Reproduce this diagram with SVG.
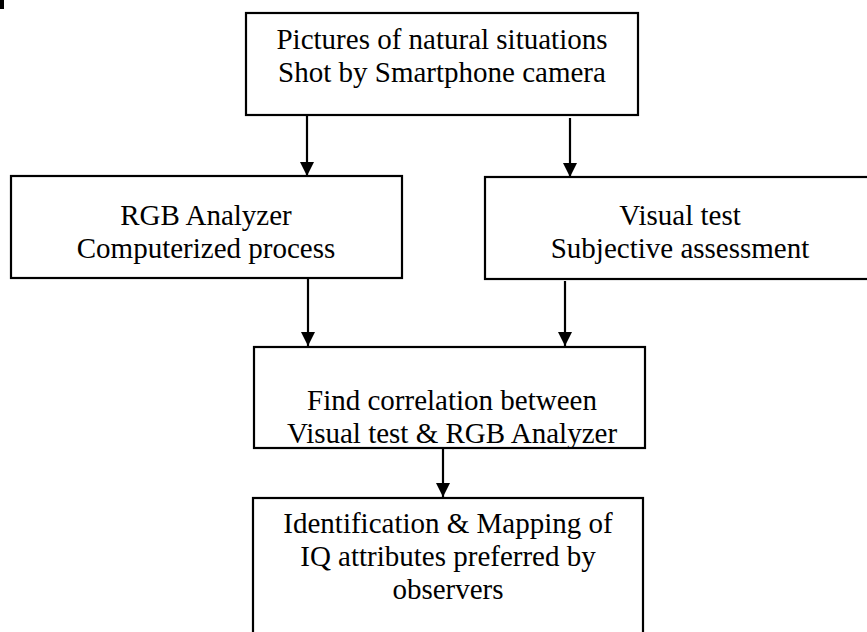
<svg xmlns="http://www.w3.org/2000/svg" width="867" height="632" viewBox="0 0 867 632">
<style>
.box{fill:#fff;stroke:#000;stroke-width:2.2}
.t{font-family:"Liberation Serif","Times New Roman",serif;font-size:29px;fill:#000;text-anchor:middle}
.c{stroke:#000;stroke-width:2.2;fill:none;marker-end:url(#ah)}
</style>
<defs>
<marker id="ah" markerUnits="userSpaceOnUse" markerWidth="16" markerHeight="16" viewBox="0 0 16 16" refX="14" refY="8" orient="auto">
<path d="M0,1 L14,8 L0,15 Z" fill="#000"/>
</marker>
</defs>
<rect x="0" y="0" width="4" height="9" fill="#000"/>
<g id="connectors">
<line class="c" x1="307" y1="115" x2="307" y2="176"/>
<line class="c" x1="570" y1="118" x2="570" y2="177"/>
<line class="c" x1="308" y1="278" x2="308" y2="346"/>
<line class="c" x1="565" y1="281" x2="565" y2="346"/>
<line class="c" x1="443" y1="448" x2="443" y2="497"/>
</g>
<g id="n1">
<rect class="box" x="246" y="13" width="392" height="102"/>
<text class="t" x="442" y="49">Pictures of natural situations</text>
<text class="t" x="442" y="82">Shot by Smartphone camera</text>
</g>
<g id="n2">
<rect class="box" x="11" y="176" width="391" height="102"/>
<text class="t" x="206" y="225">RGB Analyzer</text>
<text class="t" x="206" y="258">Computerized process</text>
</g>
<g id="n3">
<rect class="box" x="485" y="177" width="395" height="102"/>
<text class="t" x="680" y="225">Visual test</text>
<text class="t" x="680" y="258">Subjective assessment</text>
</g>
<g id="n4">
<rect class="box" x="254" y="347" width="391" height="101"/>
<text class="t" x="452" y="410">Find correlation between</text>
<text class="t" x="452" y="443">Visual test &amp; RGB Analyzer</text>
</g>
<g id="n5">
<rect class="box" x="253" y="498" width="390" height="150"/>
<text class="t" x="448" y="533">Identification &amp; Mapping of</text>
<text class="t" x="448" y="566">IQ attributes preferred by</text>
<text class="t" x="448" y="599">observers</text>
</g>
</svg>
